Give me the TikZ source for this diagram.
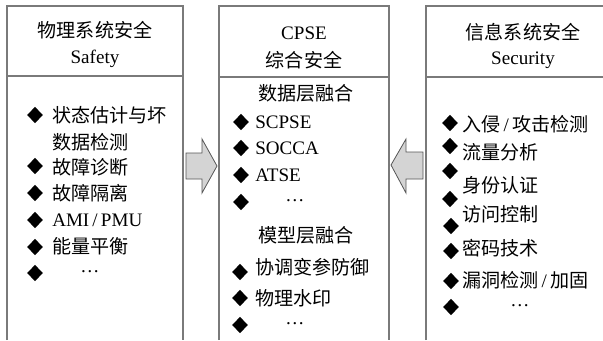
\documentclass[tikz,border=0pt]{standalone}
\usepackage{fontspec}
\setmainfont{Liberation Serif}
\newfontfamily\cjk{Noto Sans CJK SC}
\newcommand{\zh}[1]{{\cjk #1}}
\usetikzlibrary{shapes.geometric}
\definecolor{boxgray}{HTML}{7A7A7A}
\definecolor{arrowfill}{HTML}{D4D4D4}
\definecolor{arrowline}{HTML}{555555}
\begin{document}
\begin{tikzpicture}[x=0.75pt,y=-0.75pt,
  boxline/.style={draw=boxgray, line width=0.8pt},
  bigarrow/.style={draw=arrowline, fill=arrowfill, line width=0.6pt, line join=miter},
  txt/.style={inner sep=0pt, font=\fontsize{14.3}{17}\selectfont},
  item/.style={txt, anchor=west},
  dia/.style={diamond, fill=black, inner sep=0pt, minimum width=12pt, minimum height=12.3pt}]
\useasboundingbox (0,0) rectangle (603,340);
% boxes (open at bottom / right)
\draw[boxline] (7,340) -- (7,6) -- (183,6) -- (183,340);
\draw[boxline] (7,76) -- (183,76);
\draw[boxline] (219,340) -- (219,6) -- (389,6) -- (389,340);
\draw[boxline] (219,77) -- (389,77);
\draw[boxline] (426,340) -- (426,6) -- (603,6);
\draw[boxline] (426,77) -- (603,77);
% block arrows
\draw[bigarrow] (186,153) -- (202,153) -- (202,139) -- (217,166) -- (202,193) -- (202,179) -- (186,179) -- cycle;
\draw[bigarrow] (423,152) -- (406,152) -- (406,139) -- (391,165) -- (406,193) -- (406,179) -- (423,179) -- cycle;
% left box
\node[txt] (lh1) at (95,30) {\zh{物理系统安全}};
\node[txt] (lh2) at (95,59) {Safety};
\node[dia] (ld1) at (35,115) {};
\node[item] (l1) at (52,115) {\zh{状态估计与坏}};
\node[item] (l1b) at (52,142) {\zh{数据检测}};
\node[dia] (ld2) at (35,166) {};
\node[item] (l2) at (52,167) {\zh{故障诊断}};
\node[dia] (ld3) at (35,193) {};
\node[item] (l3) at (52,193) {\zh{故障隔离}};
\node[dia] (ld4) at (35,220) {};
\node[item] (l4) at (52,220) {AMI\,/\,PMU};
\node[dia] (ld5) at (35,247) {};
\node[item] (l5) at (52,246) {\zh{能量平衡}};
\node[dia] (ld6) at (35,273) {};
\node[txt] (l6) at (90,272) {\dots};
% middle box
\node[txt] (mh1) at (304,33) {CPSE};
\node[txt] (mh2) at (304,60) {\zh{综合安全}};
\node[item] (ma) at (258,93) {\zh{数据层融合}};
\node[dia] (md1) at (241,122) {};
\node[item] (m1) at (255,122) {SCPSE};
\node[dia] (md2) at (241,148) {};
\node[item] (m2) at (255,148) {SOCCA};
\node[dia] (md3) at (241,175) {};
\node[item] (m3) at (255,175) {ATSE};
\node[dia] (md4) at (241,202) {};
\node[txt] (m4) at (295,201) {\dots};
\node[item] (mb) at (258,235) {\zh{模型层融合}};
\node[dia] (md5) at (240,272) {};
\node[item] (m5) at (255,267) {\zh{协调变参防御}};
\node[dia] (md6) at (240,298) {};
\node[item] (m6) at (255,298) {\zh{物理水印}};
\node[dia] (md7) at (240,325) {};
\node[txt] (m7) at (295,324) {\dots};
% right box
\node[txt] (rh1) at (523,32) {\zh{信息系统安全}};
\node[txt] (rh2) at (523,60) {Security};
\node[dia] (rd1) at (450,123) {};
\node[item] (r1) at (462,124) {\zh{入侵}\,/\,\zh{攻击检测}};
\node[dia] (rd2) at (450,146) {};
\node[item] (r2) at (462,152) {\zh{流量分析}};
\node[dia] (rd3) at (450,171) {};
\node[item] (r3) at (462,185) {\zh{身份认证}};
\node[dia] (rd4) at (450,199) {};
\node[item] (r4) at (462,214) {\zh{访问控制}};
\node[dia] (rd5) at (451,226) {};
\node[item] (r5) at (462,248) {\zh{密码技术}};
\node[dia] (rd6) at (451,251) {};
\node[dia] (rd7) at (451,281) {};
\node[item] (r6) at (462,280) {\zh{漏洞检测}\,/\,\zh{加固}};
\node[dia] (rd8) at (451,307) {};
\node[txt] (r7) at (520,306) {\dots};
\end{tikzpicture}
\end{document}
